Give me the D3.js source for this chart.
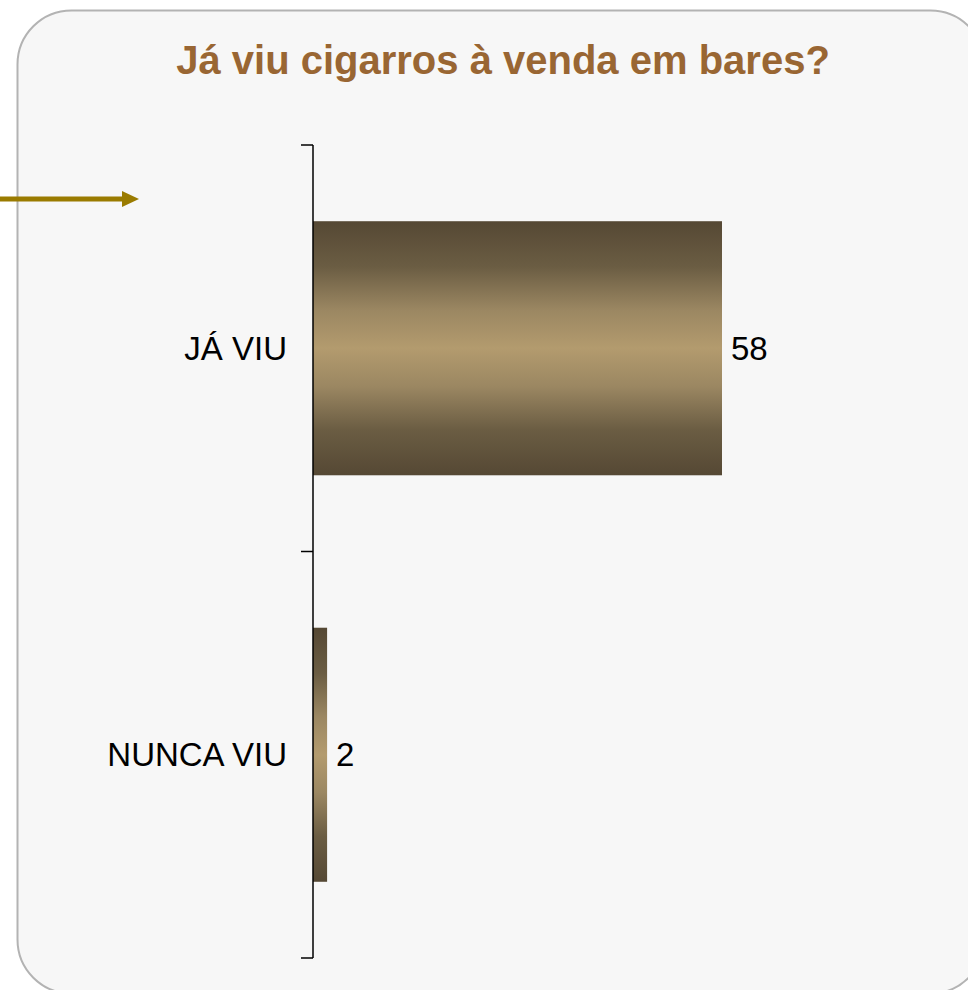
<!DOCTYPE html>
<html>
<head>
<meta charset="utf-8">
<script src="https://cdn.jsdelivr.net/npm/d3@7"></script>
<style>
  body { margin: 0; background: #fff; }
  svg { display: block; }
</style>
</head>
<body>
<svg id="root"></svg>
<script>
// data
const categories = ["JÁ VIU", "NUNCA VIU"]
const values = [58, 2]
const title = "Já viu cigarros à venda em bares?"

const W = 968, H = 990

const svg = d3.select("#root").attr("width", W).attr("height", H)

// gradient for the bars (dark edges, light middle)
const defs = svg.append("defs")
const grad = defs.append("linearGradient")
  .attr("id", "barGrad")
  .attr("x1", 0).attr("y1", 0).attr("x2", 0).attr("y2", 1)
grad.append("stop").attr("offset", "0%").attr("stop-color", "#554834")
grad.append("stop").attr("offset", "18%").attr("stop-color", "#6b5d43")
grad.append("stop").attr("offset", "35%").attr("stop-color", "#9b8762")
grad.append("stop").attr("offset", "50%").attr("stop-color", "#b39b6e")
grad.append("stop").attr("offset", "65%").attr("stop-color", "#9b8762")
grad.append("stop").attr("offset", "82%").attr("stop-color", "#6b5d43")
grad.append("stop").attr("offset", "100%").attr("stop-color", "#554834")

// panel
svg.append("rect")
  .attr("x", 17.5).attr("y", 10.5)
  .attr("width", 967).attr("height", 983)
  .attr("rx", 54).attr("ry", 54)
  .attr("fill", "#f7f7f7")
  .attr("stroke", "#b3b3b3")
  .attr("stroke-width", 2)

// title
svg.append("text")
  .attr("x", 503).attr("y", 74)
  .attr("text-anchor", "middle")
  .attr("font-family", "Liberation Sans, Arial, sans-serif")
  .attr("font-weight", "bold")
  .attr("font-size", 40)
  .attr("fill", "#996633")
  .text(title)

// arrow
svg.append("line")
  .attr("x1", 0).attr("y1", 199)
  .attr("x2", 124).attr("y2", 199)
  .attr("stroke", "#9a7b00")
  .attr("stroke-width", 5)
svg.append("path")
  .attr("d", "M122,191 L139,199 L122,207 Z")
  .attr("fill", "#9a7b00")

// chart area
const x0 = 313, yTop = 145, yBot = 958

const xScale = d3.scaleLinear([0, 58], [x0, 722])
const yScale = d3.scaleBand(categories, [yTop, yBot])
  .paddingInner(0.375)
  .paddingOuter(0.1875)

const g = svg.append("g")

// bars
g.selectAll("rect.bar")
  .data(categories)
  .join("rect")
  .attr("class", "bar")
  .attr("x", xScale(0))
  .attr("y", d => yScale(d))
  .attr("width", (d, i) => xScale(values[i]) - xScale(0))
  .attr("height", yScale.bandwidth())
  .attr("fill", "url(#barGrad)")

// axis line with ticks at category boundaries
const step = yScale.step()
const bounds = [yTop].concat(categories.map((d, i) => yTop + (i + 1) * step))
g.append("line")
  .attr("x1", x0).attr("x2", x0)
  .attr("y1", yTop).attr("y2", yBot)
  .attr("stroke", "#000").attr("stroke-width", 1.5)
g.selectAll("line.tick")
  .data(bounds)
  .join("line")
  .attr("class", "tick")
  .attr("x1", x0 - 12).attr("x2", x0)
  .attr("y1", d => d).attr("y2", d => d)
  .attr("stroke", "#000").attr("stroke-width", 1.5)

// category labels
g.selectAll("text.cat")
  .data(categories)
  .join("text")
  .attr("class", "cat")
  .attr("x", x0 - 26)
  .attr("y", d => yScale(d) + yScale.bandwidth() / 2)
  .attr("dy", "0.35em")
  .attr("text-anchor", "end")
  .attr("font-family", "Liberation Sans, Arial, sans-serif")
  .attr("font-size", 33)
  .attr("fill", "#000")
  .text(d => d)

// value labels
g.selectAll("text.val")
  .data(categories)
  .join("text")
  .attr("class", "val")
  .attr("x", (d, i) => xScale(values[i]) + 9)
  .attr("y", d => yScale(d) + yScale.bandwidth() / 2)
  .attr("dy", "0.35em")
  .attr("font-family", "Liberation Sans, Arial, sans-serif")
  .attr("font-size", 33)
  .attr("fill", "#000")
  .text((d, i) => values[i])
</script>
</body>
</html>
